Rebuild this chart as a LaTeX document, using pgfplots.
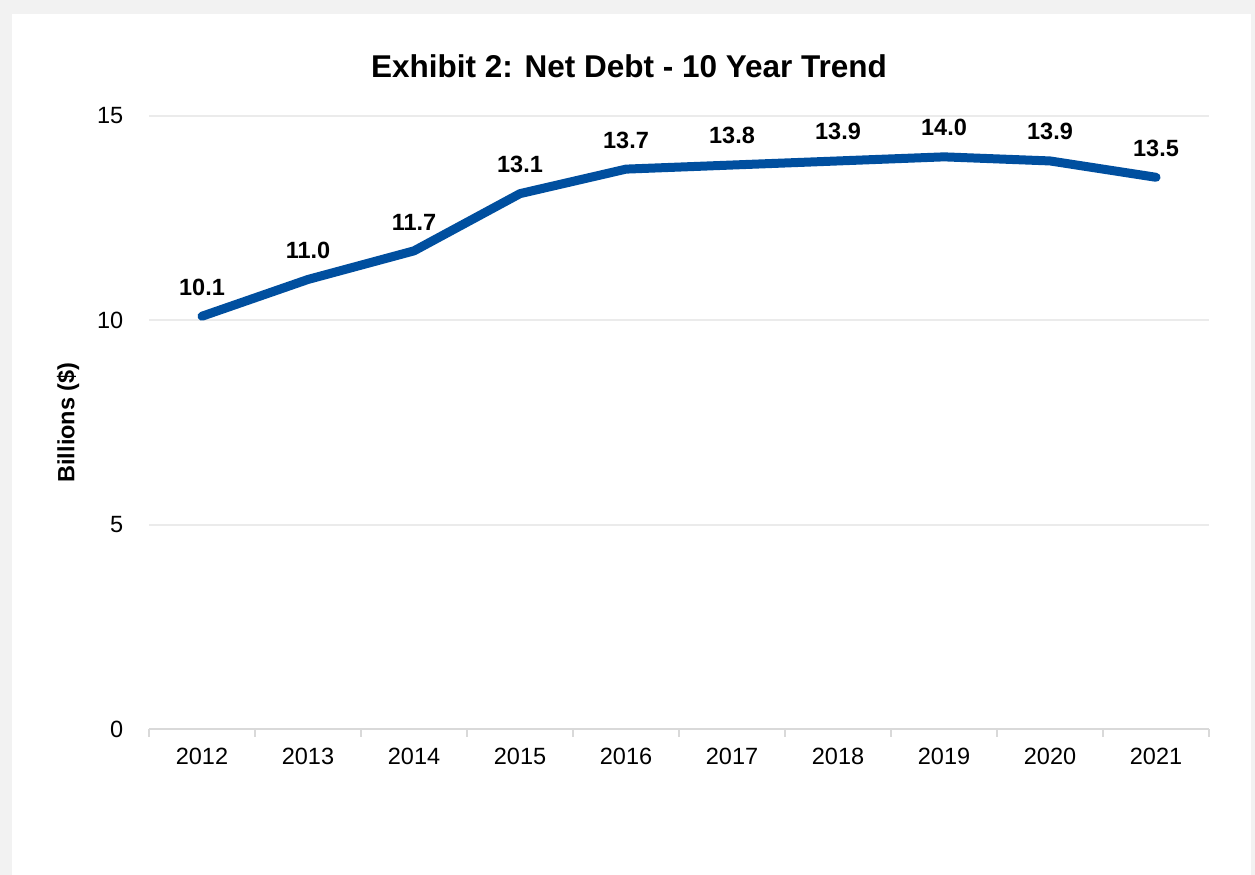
\documentclass[border=0pt]{standalone}
\usepackage{pgfplots}
\pgfplotsset{compat=1.18}
\usepackage{fontspec}
\setmainfont{Liberation Sans}
\definecolor{netblue}{RGB}{0,79,159}
\definecolor{framegray}{RGB}{242,242,242}
\definecolor{gridgray}{RGB}{235,235,235}
\definecolor{axisgray}{RGB}{217,217,217}

\begin{document}
\begin{tikzpicture}[x=1pt,y=1pt]
% outer frame
\fill[framegray] (0,0) rectangle (1255,875);
\fill[white] (12,0) rectangle (1251,861);
\node[font=\bfseries\fontsize{31.5}{36}\selectfont] at (629,809) {Exhibit 2: Net Debt - 10 Year Trend};
\begin{axis}[
  at={(149pt,146pt)}, anchor=south west,
  scale only axis, width=1060pt, height=613pt,
  xmin=-0.5, xmax=9.5, ymin=0, ymax=15,
  axis x line=bottom, axis y line=left,
  x axis line style={-, axisgray, line width=2.5pt},
  y axis line style={draw=none},
  xtick={0,...,9},
  xticklabels={2012,2013,2014,2015,2016,2017,2018,2019,2020,2021},
  major x tick style={draw=none},
  minor xtick={-0.5,0.5,...,9.5},
  minor x tick style={axisgray, line width=2pt},
  minor tick length=8pt,
  tick align=outside,
  ytick={0,5,10,15},
  ytick style={draw=none},
  ymajorgrids, grid style={gridgray, line width=2pt},
  /pgf/number format/assume math mode=true,
  tick label style={font=\fontsize{23.5}{28}\selectfont},
  xticklabel style={yshift=-11pt},
  yticklabel style={xshift=-18pt},
  ylabel={Billions (\$)},
  every axis y label/.style={at={(axis description cs:0,0.5)}, xshift=-81pt, rotate=90, anchor=center, font=\bfseries\fontsize{23.5}{28}\selectfont},
  clip=false,
  nodes near coords={\pgfmathprintnumber[fixed,fixed zerofill,precision=1]{\pgfplotspointmeta}},
  every node near coord/.append style={font=\bfseries\fontsize{23.5}{28}\selectfont, text=black, anchor=south, yshift=13pt},
]
\addplot[netblue, line width=9pt, line cap=round, line join=round, mark=none] coordinates {
  (0,10.1) (1,11.0) (2,11.7) (3,13.1) (4,13.7) (5,13.8) (6,13.9) (7,14.0) (8,13.9) (9,13.5)
};
\end{axis}
\end{tikzpicture}
\end{document}
